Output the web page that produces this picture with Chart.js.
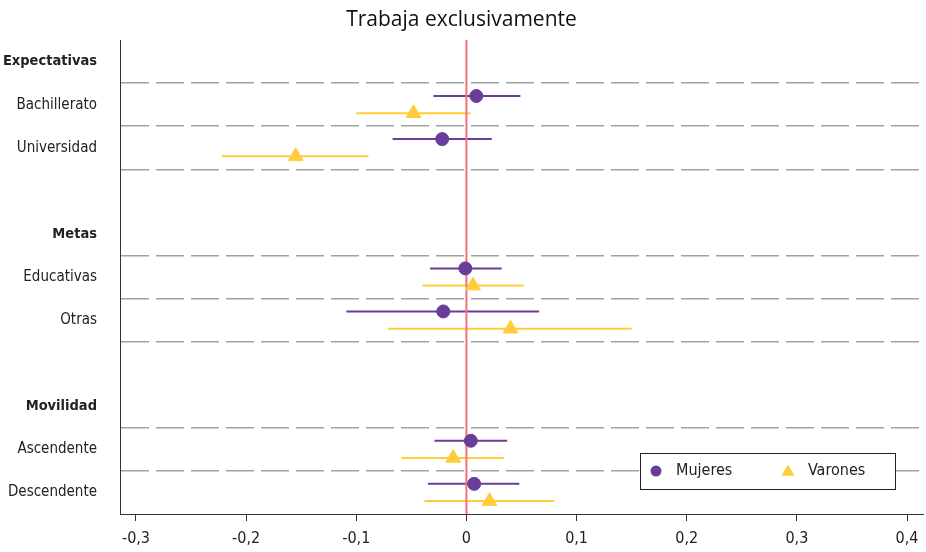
<!DOCTYPE html>
<html>
<head>
<meta charset="utf-8">
<script src="https://cdn.jsdelivr.net/npm/chart.js@4/dist/chart.umd.min.js"></script>
<style>
  html, body { margin: 0; padding: 0; background: #fff; }
  #wrap { width: 926px; height: 552px; }
</style>
</head>
<body>
<div id="wrap"><canvas id="effChart" width="926" height="552"></canvas></div>
<script>
// rows of the y axis (top to bottom); headers are bold, '' rows are spacers
const rowLabels = ['Expectativas', 'Bachillerato', 'Universidad', '',
                   'Metas', 'Educativas', 'Otras', '',
                   'Movilidad', 'Ascendente', 'Descendente'];
const headerRows = [0, 4, 8];
const itemRows = [1, 2, 5, 6, 9, 10];
const gridRows = [0.5, 1.5, 2.5, 4.5, 5.5, 6.5, 8.5, 9.5];

// point estimates and confidence intervals, same order as itemRows
const mujeresEst = [0.009, -0.022, -0.001, -0.021, 0.004, 0.007];
const mujeresLo  = [-0.030, -0.067, -0.033, -0.109, -0.029, -0.035];
const mujeresHi  = [0.049, 0.023, 0.032, 0.066, 0.037, 0.048];
const varonesEst = [-0.048, -0.155, 0.006, 0.040, -0.012, 0.021];
const varonesLo  = [-0.100, -0.222, -0.040, -0.071, -0.059, -0.038];
const varonesHi  = [0.004, -0.089, 0.052, 0.150, 0.034, 0.080];

const xTicks = [-0.3, -0.2, -0.1, 0, 0.1, 0.2, 0.3, 0.4];
const xTickLabels = ['-0,3', '-0,2', '-0,1', '0', '0,1', '0,2', '0,3', '0,4'];

const PURPLE = '#6a3d9a';
const YELLOW = '#ffcd3c';
const RED = '#f37179';
const FONT = "'DejaVu Sans Condensed', 'Roboto', sans-serif";

const OFF = 0.2; // vertical offset of each series inside its row

const markerSets = [
  {
    label: 'Mujeres',
    type: 'scatter',
    data: itemRows.map((r, i) => ({ x: mujeresEst[i], y: r - OFF })),
    backgroundColor: PURPLE,
    borderColor: PURPLE,
    pointStyle: 'circle',
    pointRadius: 6.5,
    pointHoverRadius: 6.5
  },
  {
    label: 'Varones',
    type: 'scatter',
    data: itemRows.map((r, i) => ({ x: varonesEst[i], y: r + OFF })),
    backgroundColor: YELLOW,
    borderColor: YELLOW,
    pointStyle: 'triangle',
    pointRadius: 8.5,
    pointHoverRadius: 8.5
  }
];

// zero reference line
const zeroLine = {
  label: '_zero',
  type: 'line',
  data: [{ x: 0, y: -0.5 }, { x: 0, y: 10.5 }],
  borderColor: RED,
  borderWidth: 2,
  pointRadius: 0
};

const ciSets = [];
itemRows.forEach((r, i) => {
  ciSets.push({
    label: '_ci',
    type: 'line',
    data: [{ x: mujeresLo[i], y: r - OFF }, { x: mujeresHi[i], y: r - OFF }],
    borderColor: PURPLE,
    borderWidth: 2,
    pointRadius: 0
  });
  ciSets.push({
    label: '_ci',
    type: 'line',
    data: [{ x: varonesLo[i], y: r + OFF }, { x: varonesHi[i], y: r + OFF }],
    borderColor: YELLOW,
    borderWidth: 2,
    pointRadius: 0
  });
});

// legend drawn as a framed box inside the plot, lower right
const boxLegend = {
  id: 'boxLegend',
  afterDatasetsDraw(chart) {
    const { ctx, chartArea } = chart;
    const w = 255, h = 36;
    const x0 = chartArea.right - 28 - w;
    const y0 = chartArea.bottom - 25 - h;
    const cy = y0 + h / 2;
    ctx.save();
    ctx.fillStyle = '#fff';
    ctx.strokeStyle = '#222';
    ctx.lineWidth = 1;
    ctx.fillRect(x0, y0, w, h);
    ctx.strokeRect(x0 + 0.5, y0 + 0.5, w, h);

    ctx.fillStyle = PURPLE;
    ctx.beginPath();
    ctx.arc(x0 + 16, cy, 5.5, 0, Math.PI * 2);
    ctx.fill();

    const tr = 7.5, tx = x0 + 148, ty = cy + 1;
    ctx.fillStyle = YELLOW;
    ctx.beginPath();
    ctx.moveTo(tx, ty - tr);
    ctx.lineTo(tx + tr * Math.sin(2 * Math.PI / 3), ty + tr / 2);
    ctx.lineTo(tx - tr * Math.sin(2 * Math.PI / 3), ty + tr / 2);
    ctx.closePath();
    ctx.fill();

    ctx.fillStyle = '#222';
    ctx.font = '16px ' + FONT;
    ctx.textBaseline = 'middle';
    ctx.fillText(markerSets[0].label, x0 + 36, cy);
    ctx.fillText(markerSets[1].label, x0 + 168, cy);
    ctx.restore();
  }
};

new Chart(document.getElementById('effChart'), {
  type: 'scatter',
  data: { datasets: [...markerSets, zeroLine, ...ciSets] },
  options: {
    responsive: false,
    animation: false,
    layout: { autoPadding: false, padding: { left: 0, right: 3, top: 0, bottom: 0 } },
    plugins: {
      legend: { display: false },
      tooltip: { enabled: false },
      title: {
        display: true,
        text: 'Trabaja exclusivamente',
        color: '#111',
        font: { family: "'Open Sans', sans-serif", size: 21, weight: 500, lineHeight: 1.2 },
        padding: { top: 7, bottom: 7.8 }
      }
    },
    scales: {
      x: {
        type: 'linear',
        min: -0.3145,
        max: 0.4145,
        afterFit: (scale) => {
          scale.height = 38;
          scale.paddingLeft = 0;
          scale.paddingRight = 0;
        },
        border: { display: true, color: '#333', width: 1 },
        grid: {
          color: 'transparent',
          drawTicks: true,
          tickLength: 7,
          tickColor: '#333',
          tickWidth: 1
        },
        ticks: {
          stepSize: 0.1,
          includeBounds: false,
          autoSkip: false,
          maxRotation: 0,
          padding: 8,
          color: '#222',
          font: { family: FONT, size: 16 },
          callback: (value) => {
            const k = xTicks.findIndex(t => Math.abs(t - value) < 1e-9);
            return k >= 0 ? xTickLabels[k] : null;
          }
        }
      },
      y: {
        type: 'linear',
        reverse: true,
        min: -0.5,
        max: 10.5,
        afterFit: (scale) => { scale.width = 120; },
        border: { display: true, color: '#333', width: 1, dash: [28, 7] },
        grid: {
          drawTicks: false,
          lineWidth: 1.5,
          color: (c) => gridRows.includes(c.tick && c.tick.value) ? '#a0a0a0' : 'transparent'
        },
        ticks: {
          stepSize: 0.5,
          autoSkip: false,
          padding: 23,
          color: '#222',
          font: (c) => {
            const head = c.tick && headerRows.includes(c.tick.value);
            return { family: FONT, size: head ? 14.5 : 15, weight: head ? 'bold' : 'normal' };
          },
          callback: (value) => Number.isInteger(value) ? rowLabels[value] : ''
        }
      }
    }
  },
  plugins: [boxLegend]
});
</script>
</body>
</html>
